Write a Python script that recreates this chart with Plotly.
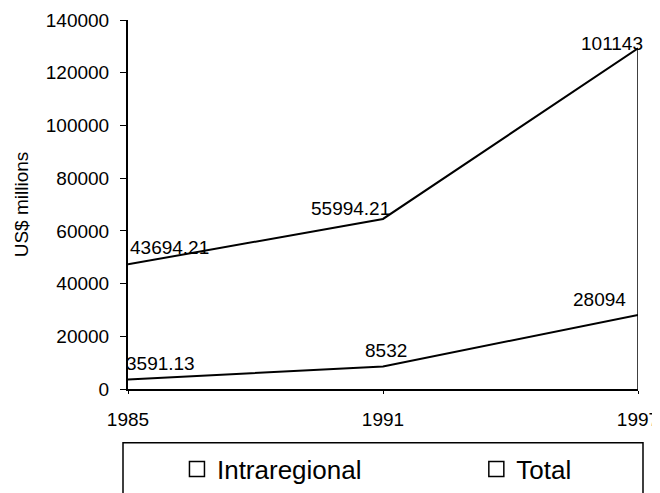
import plotly.graph_objects as go

years = [1985, 1991, 1997]
intraregional = [3591.13, 8532, 28094]
total = [43694.21, 55994.21, 101143]
y_ticks = [0, 20000, 40000, 60000, 80000, 100000, 120000, 140000]

stacked_total = [a + b for a, b in zip(intraregional, total)]


def fmt(v):
    s = "%.2f" % v
    return s.rstrip("0").rstrip(".")


FONT = "Liberation Sans, Arial, sans-serif"

fig = go.Figure()
fig.add_trace(go.Scatter(x=years, y=intraregional, stackgroup="one", mode="lines",
                         line=dict(color="black", width=2), fillcolor="white",
                         showlegend=False, hoverinfo="skip"))
fig.add_trace(go.Scatter(x=years, y=total, stackgroup="one", mode="lines",
                         line=dict(color="black", width=2), fillcolor="white",
                         showlegend=False, hoverinfo="skip"))
# right edge of the stacked area
fig.add_trace(go.Scatter(x=[years[-1], years[-1]], y=[0, stacked_total[-1]], mode="lines",
                         line=dict(color="black", width=1.5), showlegend=False, hoverinfo="skip"))

# legend entries (square icons), one legend each so they can be placed freely
for name, lg in [("Intraregional", "legend"), ("Total", "legend2")]:
    fig.add_trace(go.Scatter(x=[None], y=[None], name=name, legend=lg, mode="markers",
                             marker=dict(symbol="square", size=15, color="white",
                                         line=dict(color="black", width=1.5))))

# data labels
intra_pos = [dict(xanchor="left", xshift=-4, yshift=16),
             dict(xanchor="center", xshift=3, yshift=16),
             dict(xanchor="right", xshift=-10, yshift=15)]
total_pos = [dict(xanchor="left", xshift=0, yshift=17),
             dict(xanchor="right", xshift=9, yshift=10),
             dict(xanchor="right", xshift=7, yshift=5)]
for i, yr in enumerate(years):
    fig.add_annotation(x=yr, y=intraregional[i], text=fmt(intraregional[i]), showarrow=False,
                       yanchor="middle", font=dict(family=FONT, size=19, color="black"),
                       **intra_pos[i])
    fig.add_annotation(x=yr, y=stacked_total[i], text=fmt(total[i]), showarrow=False,
                       yanchor="middle", font=dict(family=FONT, size=19, color="black"),
                       **total_pos[i])

# legend frame
fig.add_shape(type="rect", xref="paper", yref="paper",
              x0=-0.0098, x1=1.0098, y0=-0.146, y1=-0.45,
              line=dict(color="black", width=1.5), fillcolor="rgba(0,0,0,0)")

legend_common = dict(orientation="h", xanchor="left", y=-0.217, yanchor="middle",
                     font=dict(family=FONT, size=26, color="black"),
                     bgcolor="rgba(0,0,0,0)", borderwidth=0)

fig.update_layout(
    width=652, height=485,
    margin=dict(l=120, r=22, t=12, b=104, autoexpand=False),
    paper_bgcolor="white", plot_bgcolor="white",
    font=dict(family=FONT, color="black"),
    legend=dict(x=0.096, **legend_common),
    legend2=dict(x=0.683, **legend_common),
    xaxis=dict(range=[years[0], years[-1]], tickvals=years, ticktext=[str(y) for y in years],
               showgrid=False, zeroline=False, showline=True, linecolor="black", linewidth=2,
               ticks="outside", ticklen=3, tickcolor="black", ticklabelstandoff=9,
               tickfont=dict(family=FONT, size=19, color="black")),
    yaxis=dict(range=[0, 140000], tickvals=y_ticks, tickformat="d", showgrid=False, zeroline=False,
               showline=True, linecolor="black", linewidth=2,
               ticks="outside", ticklen=6, tickcolor="black", ticklabelstandoff=7,
               tickfont=dict(family=FONT, size=19, color="black"),
               title=dict(text="US$ millions", standoff=12,
                          font=dict(family=FONT, size=19, color="black"))),
)

fig.write_html("out.html")
